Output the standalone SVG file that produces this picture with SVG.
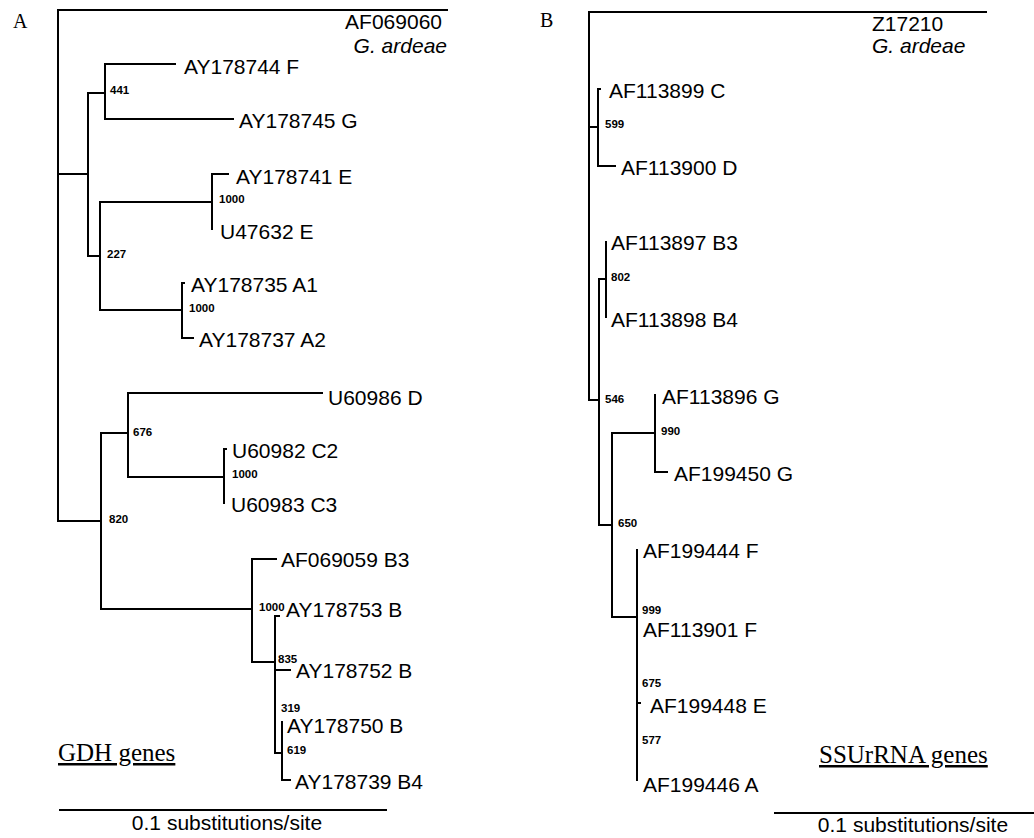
<svg xmlns="http://www.w3.org/2000/svg" width="1034" height="838" viewBox="0 0 1034 838">
<style>
.lbl{font-family:"Liberation Sans",Arial,sans-serif;font-size:21px;fill:#000}
.it{font-style:italic}
.bs{font-family:"Liberation Sans",Arial,sans-serif;font-size:11.5px;font-weight:bold;fill:#000}
.pan{font-family:"Liberation Serif","Times New Roman",serif;font-size:20px;fill:#000}
.gn{font-family:"Liberation Serif","Times New Roman",serif;font-size:25px;fill:#000;text-decoration:underline}
.br{fill:none;stroke:#000;stroke-width:2;stroke-linecap:square}
</style>
<rect width="1034" height="838" fill="#fff"/>
<g id="connectors">
<g id="connectors-A">
<path class="br" d="M58,10 H447 M58,10 V521 M58,174 H88 M88,93 V256 M88,93 H105 M105,64 V119 M105,64 H175 M105,119 H233 M88,256 H100 M100,202 V310 M100,202 H212 M212,174 V229 M212,174 H228 M100,310 H182 M182,283 V338 M182,283 H184 M182,338 H193 M58,521 H101 M101,433 V609 M101,433 H128 M128,393 V477 M128,393 H322 M128,477 H224 M224,449 V503 M224,449 H226 M101,609 H252 M252,559 V662 M252,559 H276 M252,662 H275 M275,616 V753 M275,616 H279 M275,670 H290 M275,753 H282 M282,722 V780 M282,780 H290"/>
<path class="br" d="M60,810 H386"/>
</g>
<g id="connectors-B">
<path class="br" d="M589,12 H986 M589,12 V400 M589,127 H598 M598,89 V166 M598,89 H600 M598,166 H615 M589,400 H599 M599,279 V525 M599,279 H606 M606,242 V317 M599,525 H612 M612,433 V617 M612,433 H655 M655,395 V472 M655,472 H667 M612,617 H637 M637,550 V780 M637,703 H640"/>
<path class="br" d="M775,813 H1033"/>
</g>
</g>
<g id="panel-A">
<text class="pan" x="13" y="28">A</text>
<g id="n-AF069060"><text class="lbl" x="442" y="29" text-anchor="end">AF069060</text><text class="lbl it" x="447" y="53" text-anchor="end">G. ardeae</text></g>
<g id="n-AY178744F"><text class="lbl" x="184" y="74">AY178744 F</text></g>
<g id="n-441"><text class="bs" x="110" y="94">441</text></g>
<g id="n-AY178745G"><text class="lbl" x="239" y="128">AY178745 G</text></g>
<g id="n-AY178741E"><text class="lbl" x="236" y="184">AY178741 E</text></g>
<g id="n-1000a"><text class="bs" x="219" y="203">1000</text></g>
<g id="n-U47632E"><text class="lbl" x="220" y="239">U47632 E</text></g>
<g id="n-227"><text class="bs" x="107" y="258">227</text></g>
<g id="n-AY178735A1"><text class="lbl" x="191" y="292">AY178735 A1</text></g>
<g id="n-1000b"><text class="bs" x="189" y="312">1000</text></g>
<g id="n-AY178737A2"><text class="lbl" x="199" y="347">AY178737 A2</text></g>
<g id="n-U60986D"><text class="lbl" x="328" y="405">U60986 D</text></g>
<g id="n-676"><text class="bs" x="133" y="436">676</text></g>
<g id="n-U60982C2"><text class="lbl" x="232" y="458">U60982 C2</text></g>
<g id="n-1000c"><text class="bs" x="232" y="478">1000</text></g>
<g id="n-U60983C3"><text class="lbl" x="231" y="512">U60983 C3</text></g>
<g id="n-820"><text class="bs" x="109" y="523">820</text></g>
<g id="n-AF069059B3"><text class="lbl" x="281" y="567">AF069059 B3</text></g>
<g id="n-1000d"><text class="bs" x="259" y="611">1000</text></g>
<g id="n-AY178753B"><text class="lbl" x="286" y="617">AY178753 B</text></g>
<g id="n-835"><text class="bs" x="278" y="663">835</text></g>
<g id="n-AY178752B"><text class="lbl" x="296" y="678">AY178752 B</text></g>
<g id="n-319"><text class="bs" x="281" y="712">319</text></g>
<g id="n-AY178750B"><text class="lbl" x="287" y="733">AY178750 B</text></g>
<g id="n-619"><text class="bs" x="287" y="754">619</text></g>
<g id="n-AY178739B4"><text class="lbl" x="295" y="789">AY178739 B4</text></g>
<text class="gn" x="58" y="761">GDH genes</text>
<text class="lbl" x="227" y="830" text-anchor="middle">0.1 substitutions/site</text>
</g>
<g id="panel-B">
<text class="pan" x="540" y="27">B</text>
<g id="n-Z17210"><text class="lbl" x="872" y="31">Z17210</text><text class="lbl it" x="872" y="53">G. ardeae</text></g>
<g id="n-AF113899C"><text class="lbl" x="609" y="98">AF113899 C</text></g>
<g id="n-599"><text class="bs" x="605" y="128">599</text></g>
<g id="n-AF113900D"><text class="lbl" x="621" y="175">AF113900 D</text></g>
<g id="n-AF113897B3"><text class="lbl" x="611" y="250">AF113897 B3</text></g>
<g id="n-802"><text class="bs" x="611" y="281">802</text></g>
<g id="n-AF113898B4"><text class="lbl" x="611" y="327">AF113898 B4</text></g>
<g id="n-546"><text class="bs" x="605" y="403">546</text></g>
<g id="n-AF113896G"><text class="lbl" x="662" y="404">AF113896 G</text></g>
<g id="n-990"><text class="bs" x="661" y="435">990</text></g>
<g id="n-AF199450G"><text class="lbl" x="674" y="481">AF199450 G</text></g>
<g id="n-650"><text class="bs" x="618" y="527">650</text></g>
<g id="n-AF199444F"><text class="lbl" x="643" y="558">AF199444 F</text></g>
<g id="n-999"><text class="bs" x="642" y="614">999</text></g>
<g id="n-AF113901F"><text class="lbl" x="643" y="637">AF113901 F</text></g>
<g id="n-675"><text class="bs" x="642" y="687">675</text></g>
<g id="n-AF199448E"><text class="lbl" x="650" y="713">AF199448 E</text></g>
<g id="n-577"><text class="bs" x="642" y="744">577</text></g>
<g id="n-AF199446A"><text class="lbl" x="643" y="792">AF199446 A</text></g>
<text class="gn" x="819" y="763">SSUrRNA genes</text>
<text class="lbl" x="913" y="832" text-anchor="middle">0.1 substitutions/site</text>
</g>
</svg>
